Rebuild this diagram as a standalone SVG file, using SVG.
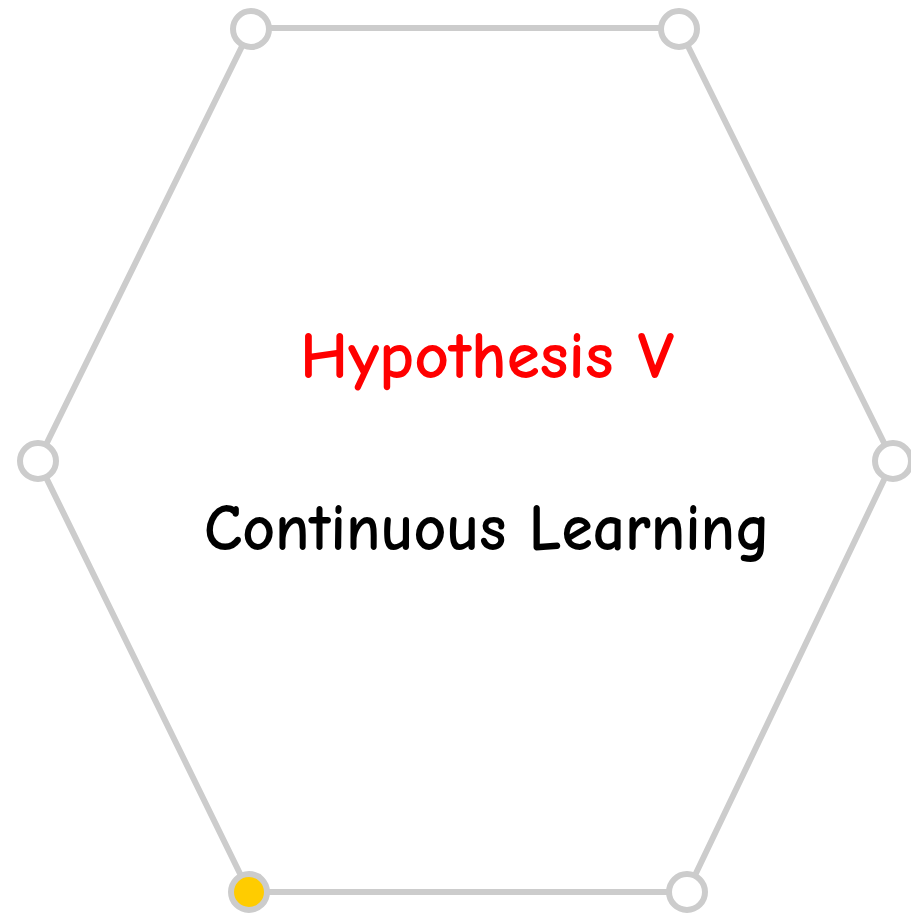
<svg xmlns="http://www.w3.org/2000/svg" width="911" height="915" viewBox="0 0 911 915">
<style>
.edge{fill:none;stroke:#cccccc;stroke-width:6;stroke-linejoin:round}
.port{fill:#ffffff;stroke:#cccccc;stroke-width:6}
.port.on{fill:#ffcc00}
.lbl{font-family:"Comic Sans MS","Comic Neue","DejaVu Sans",sans-serif;font-size:66px;font-weight:bold;text-anchor:middle}
</style>
<rect width="911" height="915" fill="#ffffff"/>
<g id="connectors">
<polygon class="edge" points="251,28 679,28 893,461 687,892 249,892 38,461"/>
</g>
<g id="hexagon-node">
<text class="lbl" x="487" y="378" fill="#ff0000" textLength="374" lengthAdjust="spacingAndGlyphs">Hypothesis V</text>
<text class="lbl" x="487" y="550" fill="#000000" textLength="566" lengthAdjust="spacingAndGlyphs">Continuous Learning</text>
</g>
<g id="port-top-left"><circle class="port" cx="251" cy="29" r="18"/></g>
<g id="port-top-right"><circle class="port" cx="679" cy="29" r="18"/></g>
<g id="port-right"><circle class="port" cx="893" cy="461" r="18"/></g>
<g id="port-bottom-right"><circle class="port" cx="687" cy="892" r="18"/></g>
<g id="port-bottom-left"><circle class="port on" cx="249" cy="892" r="18"/></g>
<g id="port-left"><circle class="port" cx="38" cy="461" r="18"/></g>
</svg>
